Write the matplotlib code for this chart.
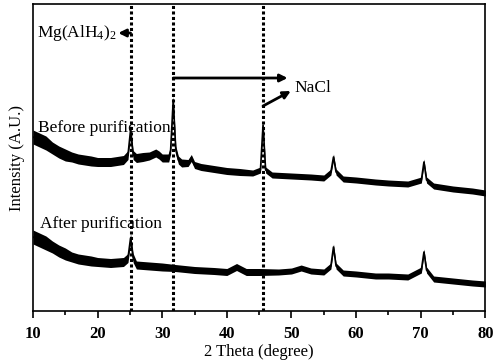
import numpy as np
import matplotlib
matplotlib.use('Agg')
import matplotlib.pyplot as plt
from matplotlib.ticker import MultipleLocator

plt.rcParams['font.family'] = ['Liberation Serif', 'DejaVu Serif']
plt.rcParams['mathtext.fontset'] = 'custom'
plt.rcParams['mathtext.rm'] = 'Liberation Serif'
plt.rcParams['mathtext.it'] = 'Liberation Serif:italic'

# Before purification (2 theta, intensity, noise half-width)
x_before = [10, 11, 12, 13, 14, 15, 16, 17, 18, 19, 20, 21, 22, 23, 24, 24.7, 25.1, 25.5,
            26, 27, 28, 29, 29.5, 30, 31, 31.3, 31.7, 32.1, 32.5, 33, 34, 34.5, 35, 36,
            38, 40, 42, 44, 45.2, 45.6, 46.0, 47, 50, 53, 55, 56.1, 56.5, 56.9, 58, 60,
            63, 65, 68, 70.1, 70.5, 70.9, 72, 75, 78, 80]
y_before = [174, 171, 168, 163, 159, 156, 154, 152, 151, 150, 149, 149, 149, 150, 151, 156, 181, 156,
            153, 154, 155, 158, 156, 153, 153, 161, 211, 161, 151, 148, 148, 153, 146, 144,
            142, 140, 139, 138, 141, 186, 141, 136, 135, 134, 133, 139, 154, 139, 132, 131,
            129, 128, 127, 131, 149, 131, 125, 122, 120, 118]
s_before = [7, 7, 7, 6, 6, 6, 5, 5, 5, 5, 4.5, 4.5, 4.5, 4.5, 4.5, 4.5, 4.5, 4.5,
            4.5, 4.5, 4, 4, 4, 4, 4, 4, 4, 4, 4, 4, 3.5, 3.5, 3.5, 3.5,
            3.5, 3.5, 3.5, 3, 3, 3, 3, 3, 3, 3, 3, 3, 3, 3, 3, 3,
            3, 3, 3, 3, 3, 3, 3, 3, 3, 3]

# After purification
x_after = [10, 11, 12, 13, 14, 15, 16, 17, 18, 19, 20, 22, 24, 24.7, 25.1, 25.5, 26, 28,
           30, 32, 35, 38, 40, 41.5, 43, 45, 48, 50, 51.5, 53, 55, 56.1, 56.5, 56.9, 58,
           60, 63, 65, 68, 70.1, 70.5, 70.9, 72, 75, 78, 80]
y_after = [74, 71, 68, 64, 60, 57, 54, 52, 51, 50, 49, 48, 49, 53, 73, 53, 46, 45,
           44, 43, 41, 40, 39, 44, 39, 39, 39, 40, 43, 40, 39, 45, 64, 45, 38,
           37, 35, 35, 34, 41, 59, 41, 32, 30, 28, 27]
s_after = [7, 7, 7, 6, 6, 6, 5, 5, 5, 5, 4.5, 4.5, 4.5, 4.5, 4.5, 4.5, 4, 4,
           4, 3.5, 3.5, 3.5, 3.5, 3.5, 3.5, 3.5, 3, 3, 3, 3, 3, 3, 3, 3, 3,
           3, 3, 3, 3, 3, 3, 3, 3, 3, 3, 3]

ref_lines = [25.1, 31.7, 45.6]

fig = plt.figure(figsize=(4.96, 3.64), dpi=100)
ax = fig.add_axes([0.0665, 0.1456, 0.912, 0.8434])

for xs, ys, ss in [(x_before, y_before, s_before), (x_after, y_after, s_after)]:
    xs, ys, ss = np.array(xs), np.array(ys), np.array(ss)
    ax.fill_between(xs, ys - ss, ys + ss, color='k', lw=0)
    ax.plot(xs, ys, color='k', lw=1.2)

for xv in ref_lines:
    ax.axvline(xv, color='k', lw=2.2, linestyle=(0, (1, 0.8)))

arrow = dict(arrowstyle='-|>', lw=2, color='k', mutation_scale=11, shrinkA=0, shrinkB=0)
ax.annotate('', xy=(23.2, 278), xytext=(25.1, 278), arrowprops=arrow)
ax.text(22.9, 278, 'Mg(AlH$_4$)$_2$', ha='right', va='center', fontsize=12.5)
ax.annotate('', xy=(49.4, 233), xytext=(31.7, 233), arrowprops=arrow)
ax.annotate('', xy=(49.9, 220), xytext=(45.6, 205), arrowprops=arrow)
ax.text(50.4, 223, 'NaCl', ha='left', va='center', fontsize=12.5)

ax.text(10.8, 183, 'Before purification', ha='left', va='center', fontsize=12.5)
ax.text(11.1, 87, 'After purification', ha='left', va='center', fontsize=12.5)

ax.set_xlim(10, 80)
ax.set_ylim(0, 307)
ax.xaxis.set_major_locator(MultipleLocator(10))
ax.xaxis.set_minor_locator(MultipleLocator(5))
ax.tick_params(axis='x', which='major', direction='out', length=5, width=1.2, labelsize=12, pad=6)
ax.tick_params(axis='x', which='minor', direction='out', length=3, width=1.2)
ax.set_yticks([])
for lab in ax.get_xticklabels():
    lab.set_fontweight('bold')
for sp in ax.spines.values():
    sp.set_linewidth(1.2)

ax.set_xlabel('2 Theta (degree)', fontsize=12, labelpad=1)
ax.set_ylabel('Intensity (A.U.)', fontsize=12, labelpad=6)

fig.savefig('out.png', dpi=100)
